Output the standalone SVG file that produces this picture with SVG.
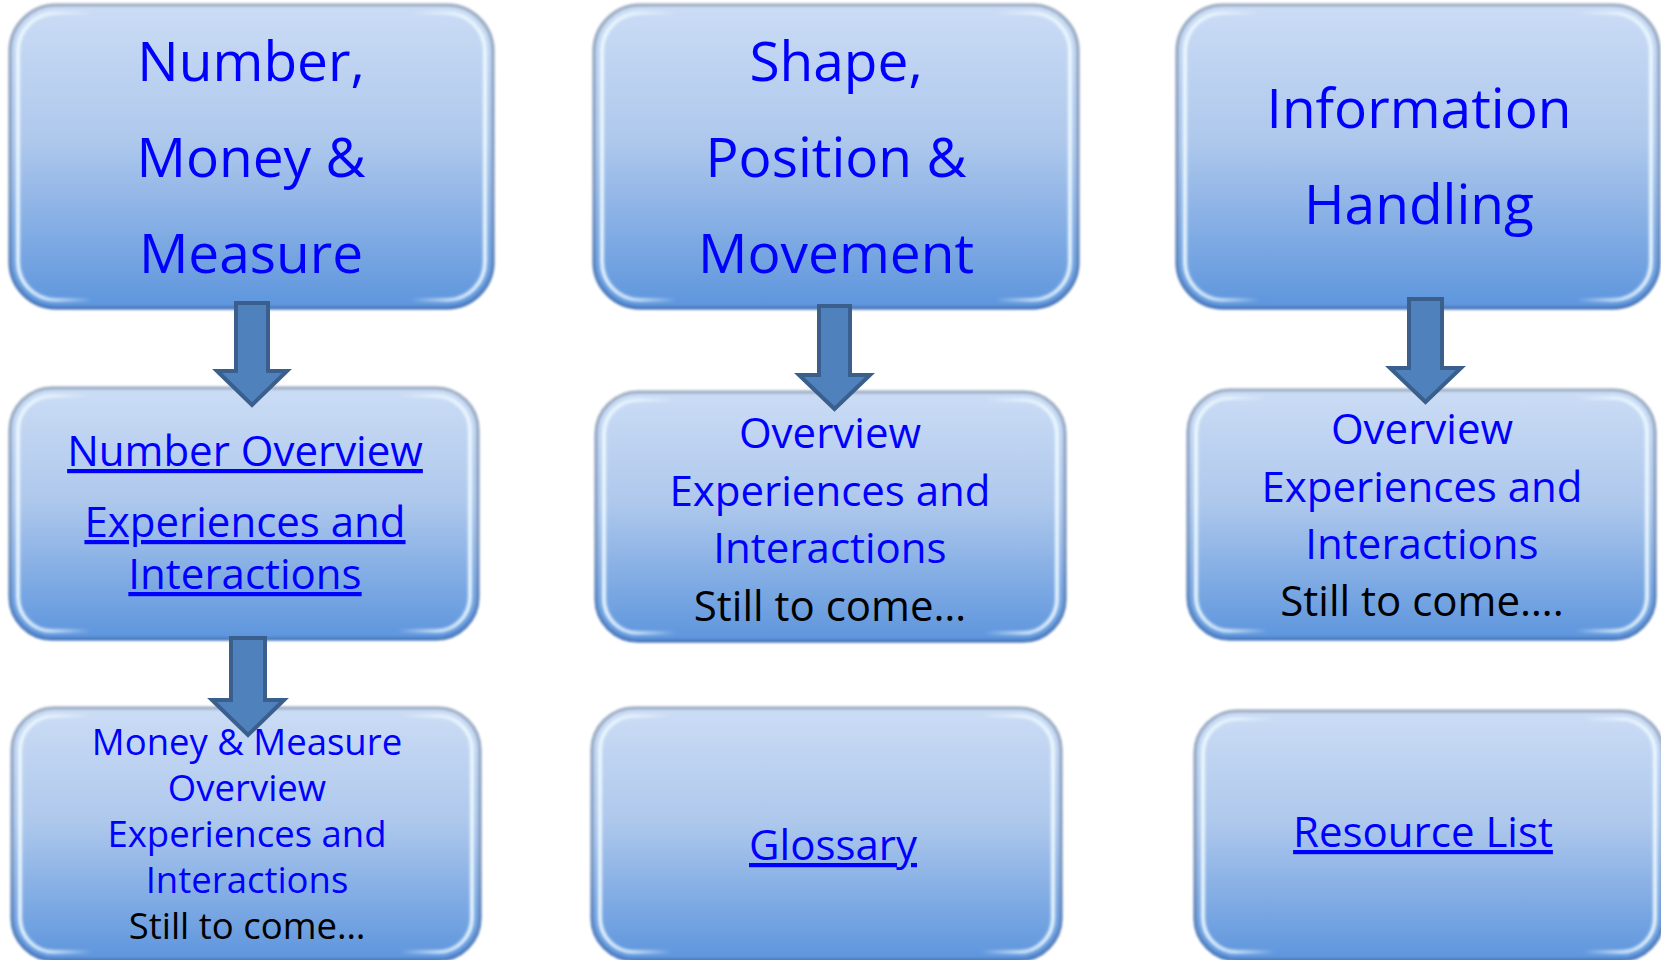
<svg xmlns="http://www.w3.org/2000/svg" width="1661" height="960" viewBox="0 0 1661 960">
  <defs>
    <!-- body shading of the bevelled boxes -->
    <linearGradient id="boxFill" x1="0" y1="0" x2="0" y2="1">
      <stop offset="0" stop-color="#cbdcf5"/>
      <stop offset="0.45" stop-color="#aec8ec"/>
      <stop offset="1" stop-color="#5d95dd"/>
    </linearGradient>
    <!-- outer rim: grey at the top, deeper blue at the bottom -->
    <linearGradient id="rimGrad" x1="0" y1="0" x2="0" y2="1">
      <stop offset="0" stop-color="#a4b3c8"/>
      <stop offset="0.6" stop-color="#839dc4"/>
      <stop offset="1" stop-color="#4d7cbf"/>
    </linearGradient>
    <!-- inner bevel highlight, strongest along the left and right sides -->
    <linearGradient id="hlGrad" x1="0" y1="0" x2="1" y2="0">
      <stop offset="0" stop-color="#eefaff" stop-opacity="0.95"/>
      <stop offset="0.07" stop-color="#eefaff" stop-opacity="0.75"/>
      <stop offset="0.16" stop-color="#eefaff" stop-opacity="0"/>
      <stop offset="0.84" stop-color="#eefaff" stop-opacity="0"/>
      <stop offset="0.93" stop-color="#eefaff" stop-opacity="0.75"/>
      <stop offset="1" stop-color="#eefaff" stop-opacity="0.95"/>
    </linearGradient>
    <filter id="soft" x="-5%" y="-5%" width="110%" height="110%">
      <feGaussianBlur stdDeviation="1.5"/>
    </filter>
    <filter id="softer" x="-5%" y="-5%" width="110%" height="110%">
      <feGaussianBlur stdDeviation="0.8"/>
    </filter>
  </defs>
  <style>
    .base { fill: url(#boxFill); }
    .rim { fill: none; stroke: url(#rimGrad); stroke-width: 3.5; filter: url(#softer); }
    .hl { fill: none; stroke: url(#hlGrad); stroke-width: 4; filter: url(#soft); }
    text { font-family: "Open Sans", "Noto Sans", "DejaVu Sans", sans-serif; text-anchor: middle; fill: #0000ff; }
    .t1 { font-size: 55px; }
    .t2 { font-size: 42px; }
    .t3 { font-size: 36.5px; }
    .link { text-decoration: underline; }
    .dark { fill: #000000; }
    .arrow { fill: #4f81bd; stroke: #3a5f8c; stroke-width: 4; stroke-linejoin: miter; }
  </style>

  <rect width="1661" height="960" fill="#ffffff"/>

  <!-- top row: strands -->
  <g id="number-money-measure">
    <rect class="base" x="10" y="5" width="483" height="303" rx="46"/>
    <rect class="hl" x="18" y="13" width="467" height="287" rx="38"/>
    <rect class="rim" x="10" y="5" width="483" height="303" rx="46"/>
    <text class="t1" x="251" y="81">Number,</text>
    <text class="t1" x="251" y="177">Money &amp;</text>
    <text class="t1" x="251" y="273">Measure</text>
  </g>

  <g id="shape-position-movement">
    <rect class="base" x="594" y="5" width="484" height="303" rx="46"/>
    <rect class="hl" x="602" y="13" width="468" height="287" rx="38"/>
    <rect class="rim" x="594" y="5" width="484" height="303" rx="46"/>
    <text class="t1" x="836" y="81">Shape,</text>
    <text class="t1" x="836" y="177">Position &amp;</text>
    <text class="t1" x="836" y="273">Movement</text>
  </g>

  <g id="information-handling">
    <rect class="base" x="1177" y="5" width="482" height="303" rx="46"/>
    <rect class="hl" x="1185" y="13" width="466" height="287" rx="38"/>
    <rect class="rim" x="1177" y="5" width="482" height="303" rx="46"/>
    <text class="t1" x="1419" y="128">Information</text>
    <text class="t1" x="1419" y="224">Handling</text>
  </g>

  <!-- middle row: overviews -->
  <g id="number-overview">
    <rect class="base" x="10" y="388" width="468" height="251" rx="42"/>
    <rect class="hl" x="18" y="396" width="452" height="235" rx="34"/>
    <rect class="rim" x="10" y="388" width="468" height="251" rx="42"/>
    <text class="t2 link" x="245" y="466">Number Overview</text>
    <text class="t2 link" x="245" y="537">Experiences and</text>
    <text class="t2 link" x="245" y="589">Interactions</text>
  </g>

  <g id="shape-overview">
    <rect class="base" x="596" y="392" width="469" height="249" rx="42"/>
    <rect class="hl" x="604" y="400" width="453" height="233" rx="34"/>
    <rect class="rim" x="596" y="392" width="469" height="249" rx="42"/>
    <text class="t2" x="830" y="448">Overview</text>
    <text class="t2" x="830" y="506">Experiences and</text>
    <text class="t2" x="830" y="563">Interactions</text>
    <text class="t2 dark" x="830" y="621">Still to come…</text>
  </g>

  <g id="information-overview">
    <rect class="base" x="1188" y="390" width="467" height="249" rx="42"/>
    <rect class="hl" x="1196" y="398" width="451" height="233" rx="34"/>
    <rect class="rim" x="1188" y="390" width="467" height="249" rx="42"/>
    <text class="t2" x="1422" y="444">Overview</text>
    <text class="t2" x="1422" y="502">Experiences and</text>
    <text class="t2" x="1422" y="559">Interactions</text>
    <text class="t2 dark" x="1422" y="616">Still to come….</text>
  </g>

  <!-- bottom row -->
  <g id="money-measure-overview">
    <rect class="base" x="12" y="708" width="468" height="252" rx="42"/>
    <rect class="hl" x="20" y="716" width="452" height="236" rx="34"/>
    <rect class="rim" x="12" y="708" width="468" height="252" rx="42"/>
    <text class="t3" x="247" y="755">Money &amp; Measure</text>
    <text class="t3" x="247" y="801">Overview</text>
    <text class="t3" x="247" y="847">Experiences and</text>
    <text class="t3" x="247" y="893">Interactions</text>
    <text class="t3 dark" x="247" y="939">Still to come…</text>
  </g>

  <g id="glossary">
    <rect class="base" x="592" y="708" width="469" height="252" rx="42"/>
    <rect class="hl" x="600" y="716" width="453" height="236" rx="34"/>
    <rect class="rim" x="592" y="708" width="469" height="252" rx="42"/>
    <text class="t2 link" x="833" y="860">Glossary</text>
  </g>

  <g id="resource-list">
    <rect class="base" x="1195" y="711" width="468" height="249" rx="42"/>
    <rect class="hl" x="1203" y="719" width="452" height="233" rx="34"/>
    <rect class="rim" x="1195" y="711" width="468" height="249" rx="42"/>
    <text class="t2 link" x="1423" y="847">Resource List</text>
  </g>

  <!-- block arrows between levels -->
  <g id="connectors">
    <polygon class="arrow" points="236,303 268,303 268,371 287,371 252,405 217,371 236,371"/>
    <polygon class="arrow" points="819,306 850,306 850,375 870,375 834.5,409 799,375 819,375"/>
    <polygon class="arrow" points="1409,299 1442,299 1442,368 1461,368 1425.5,402 1390,368 1409,368"/>
    <polygon class="arrow" points="231,638 265,638 265,700 284,700 248,735 212,700 231,700"/>
  </g>
</svg>
